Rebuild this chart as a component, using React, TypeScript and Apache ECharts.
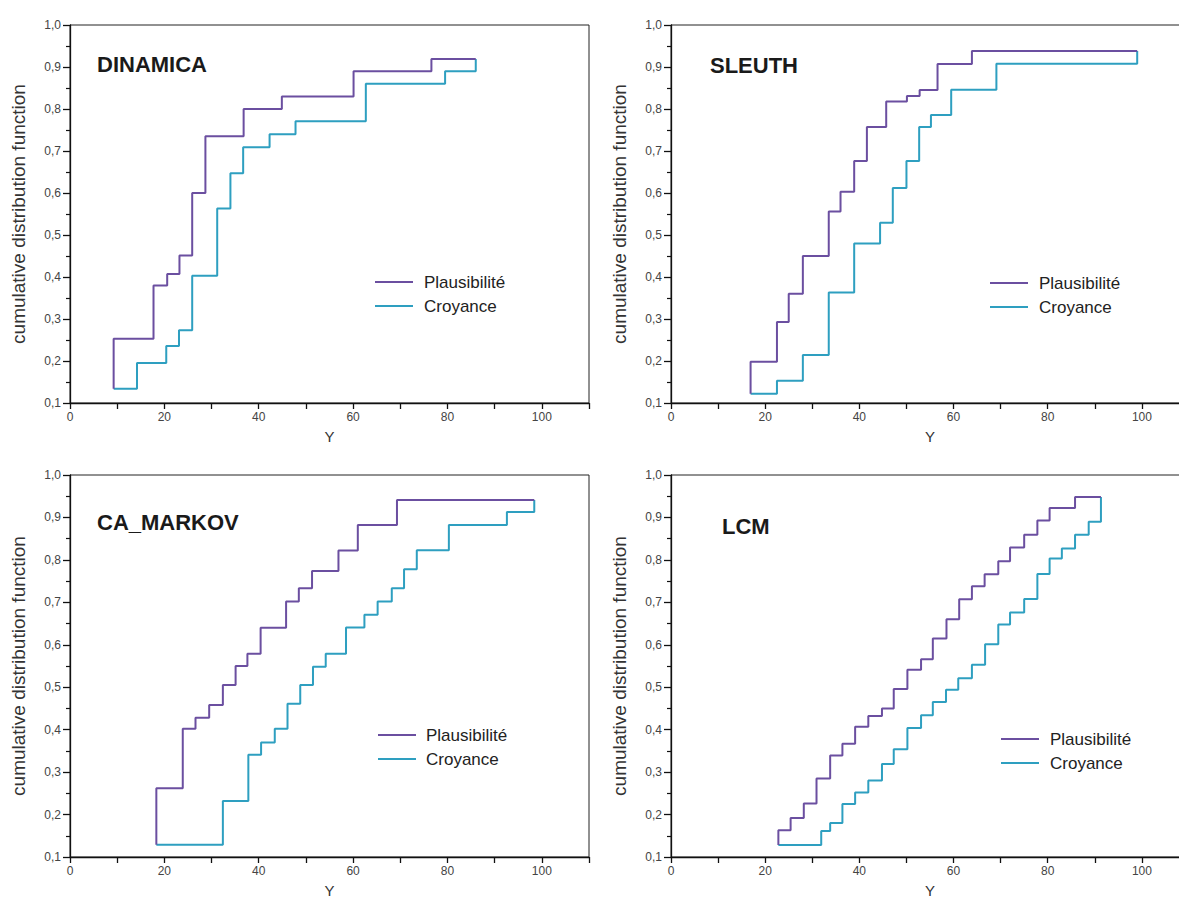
import React, { useEffect, useRef } from 'react';
import * as echarts from 'echarts';

const panelTitles = ['DINAMICA', 'SLEUTH', 'CA_MARKOV', 'LCM'];
const seriesNames = ['Plausibilité', 'Croyance'];
const xAxisName = 'Y';
const yAxisName = 'cumulative distribution function';

// DINAMICA
const dinPlausX = [9.25, 17.7, 20.6, 23.2, 25.9, 28.7, 36.8, 44.9, 60.1, 76.6];
const dinPlausY = [0.253, 0.38, 0.407, 0.451, 0.6, 0.735, 0.8, 0.83, 0.89, 0.919];
const dinCroyX = [9.25, 14.2, 20.4, 23.1, 25.9, 31.2, 34.0, 36.7, 42.3, 47.8, 62.7, 79.5];
const dinCroyY = [0.134, 0.195, 0.236, 0.273, 0.403, 0.563, 0.647, 0.709, 0.74, 0.771, 0.86, 0.89];
const dinEnd = 86.0;

// SLEUTH
const slePlausX = [16.9, 22.5, 25.0, 28.0, 33.5, 36.0, 38.9, 41.6, 45.7, 50.1, 52.8, 56.6, 63.9];
const slePlausY = [0.198, 0.293, 0.36, 0.45, 0.556, 0.603, 0.676, 0.757, 0.818, 0.831, 0.845, 0.907, 0.938];
const sleCroyX = [16.9, 22.5, 28.0, 33.5, 38.9, 44.4, 47.1, 50.0, 52.7, 55.2, 59.5, 69.1];
const sleCroyY = [0.122, 0.153, 0.214, 0.363, 0.48, 0.529, 0.612, 0.676, 0.757, 0.786, 0.846, 0.908];
const sleEnd = 99.0;

// CA_MARKOV
const camPlausX = [18.3, 23.9, 26.6, 29.5, 32.4, 35.1, 37.6, 40.4, 45.8, 48.5, 51.3, 56.9, 61.0, 69.3];
const camPlausY = [0.262, 0.402, 0.428, 0.458, 0.505, 0.55, 0.579, 0.64, 0.702, 0.733, 0.774, 0.822, 0.882, 0.941];
const camCroyX = [18.3, 32.4, 37.8, 40.5, 43.4, 46.1, 48.8, 51.5, 54.2, 58.5, 62.4, 65.2, 68.2, 70.8, 73.5, 80.3, 92.6];
const camCroyY = [0.129, 0.232, 0.341, 0.37, 0.402, 0.461, 0.505, 0.548, 0.579, 0.641, 0.671, 0.702, 0.733, 0.778, 0.823, 0.882, 0.913];
const camEnd = 98.4;

// LCM
const lcmPlausX = [22.8, 25.4, 28.2, 30.9, 33.8, 36.4, 39.1, 41.9, 44.8, 47.3, 50.2, 53.1, 55.6, 58.5, 61.2, 63.9, 66.6, 69.5, 72.0, 75.0, 77.8, 80.4, 85.8];
const lcmPlausY = [0.163, 0.192, 0.226, 0.285, 0.339, 0.367, 0.407, 0.432, 0.45, 0.496, 0.541, 0.566, 0.615, 0.66, 0.707, 0.738, 0.766, 0.797, 0.829, 0.859, 0.893, 0.922, 0.948];
const lcmCroyX = [22.8, 31.9, 33.8, 36.4, 39.1, 41.9, 44.8, 47.3, 50.2, 53.1, 55.6, 58.4, 61.0, 63.9, 66.7, 69.5, 72.0, 75.0, 77.8, 80.4, 83.0, 85.8, 88.7];
const lcmCroyY = [0.128, 0.161, 0.18, 0.225, 0.252, 0.28, 0.319, 0.354, 0.404, 0.434, 0.465, 0.494, 0.521, 0.553, 0.601, 0.648, 0.676, 0.708, 0.767, 0.803, 0.827, 0.859, 0.89];
const lcmEnd = 91.3;

const panelData = [
  { px: dinPlausX, py: dinPlausY, cx: dinCroyX, cy: dinCroyY, end: dinEnd },
  { px: slePlausX, py: slePlausY, cx: sleCroyX, cy: sleCroyY, end: sleEnd },
  { px: camPlausX, py: camPlausY, cx: camCroyX, cy: camCroyY, end: camEnd },
  { px: lcmPlausX, py: lcmPlausY, cx: lcmCroyX, cy: lcmCroyY, end: lcmEnd },
];

const PURPLE = '#6b4fa0';
const CYAN = '#2e9fc0';
const FONT = '"Liberation Sans", Arial, sans-serif';

// layout (page pixels)
const grids = [
  { left: 70, top: 25, width: 519, height: 378 },
  { left: 671, top: 25, width: 518, height: 378 },
  { left: 70, top: 475, width: 519, height: 382 },
  { left: 671, top: 475, width: 518, height: 382 },
];
const titlePos = [
  { x: 97, y: 65 },
  { x: 710, y: 66 },
  { x: 97, y: 523 },
  { x: 722, y: 527 },
];
const legendPos = [
  { x: 375, y: 282, tx: 424 },
  { x: 990, y: 283, tx: 1039 },
  { x: 378, y: 735, tx: 426 },
  { x: 1001, y: 739, tx: 1050 },
];

function buildPlaus(d: any) {
  const pts: number[][] = [[d.px[0], d.cy[0]]];
  d.px.forEach((x: number, i: number) => pts.push([x, d.py[i]]));
  pts.push([d.end, d.py[d.py.length - 1]]);
  return pts;
}
function buildCroy(d: any) {
  const pts: number[][] = [];
  d.cx.forEach((x: number, i: number) => pts.push([x, d.cy[i]]));
  pts.push([d.end, d.cy[d.cy.length - 1]]);
  pts.push([d.end, d.py[d.py.length - 1]]);
  return pts;
}

export default function App() {
  const ref = useRef<HTMLDivElement>(null);
  useEffect(() => {
    if (!ref.current) return;
    document.body.style.overflow = 'hidden';
    const chart = echarts.init(ref.current, undefined, { renderer: 'svg' });
    const xAxes: any[] = [];
    const yAxes: any[] = [];
    const series: any[] = [];
    const graphics: any[] = [];
    grids.forEach((g, i) => {
      xAxes.push({
        type: 'value',
        gridIndex: i,
        min: 0,
        max: 110,
        interval: 10,
        name: xAxisName,
        nameLocation: 'middle',
        nameGap: 26,
        nameTextStyle: { fontFamily: FONT, fontSize: 15, color: '#333' },
        axisLine: { show: true, lineStyle: { color: '#111', width: 1.3 } },
        axisTick: { show: true, inside: false, length: 6, lineStyle: { color: '#111', width: 1.3 } },
        axisLabel: {
          fontFamily: FONT,
          fontSize: 12,
          color: '#444',
          margin: 8,
          formatter: (v: number) => (v % 20 === 0 && v <= 100 ? String(v) : ''),
        },
        splitLine: { show: false },
      });
      yAxes.push({
        type: 'value',
        gridIndex: i,
        min: 0.1,
        max: 1.0,
        interval: 0.1,
        name: yAxisName,
        nameLocation: 'middle',
        nameGap: 42,
        nameTextStyle: { fontFamily: FONT, fontSize: 19, color: '#333' },
        axisLine: { show: true, lineStyle: { color: '#111', width: 1.3 } },
        axisTick: { show: true, inside: false, length: 7, lineStyle: { color: '#111', width: 1.3 } },
        minorTick: { show: true, splitNumber: 2, length: 4, lineStyle: { color: '#111', width: 1.2 } },
        axisLabel: {
          fontFamily: FONT,
          fontSize: 12,
          color: '#444',
          margin: 9,
          formatter: (v: number) => v.toFixed(1).replace('.', ','),
        },
        splitLine: { show: false },
      });
      const d = panelData[i];
      series.push({
        name: seriesNames[0],
        type: 'line',
        step: 'end',
        xAxisIndex: i,
        yAxisIndex: i,
        symbol: 'none',
        lineStyle: { color: PURPLE, width: 2 },
        itemStyle: { color: PURPLE },
        data: buildPlaus(d),
        z: 3,
      });
      series.push({
        name: seriesNames[1],
        type: 'line',
        step: 'end',
        xAxisIndex: i,
        yAxisIndex: i,
        symbol: 'none',
        lineStyle: { color: CYAN, width: 2 },
        itemStyle: { color: CYAN },
        data: buildCroy(d),
        z: 2,
      });
      graphics.push({
        type: 'text',
        left: titlePos[i].x,
        top: titlePos[i].y - 12,
        style: { text: panelTitles[i], font: `bold 22px ${FONT}`, fill: '#1a1a1a' },
      });
      const lp = legendPos[i];
      graphics.push({
        type: 'line',
        shape: { x1: lp.x, y1: lp.y, x2: lp.x + 38, y2: lp.y },
        style: { stroke: PURPLE, lineWidth: 2 },
      });
      graphics.push({
        type: 'line',
        shape: { x1: lp.x, y1: lp.y + 24, x2: lp.x + 38, y2: lp.y + 24 },
        style: { stroke: CYAN, lineWidth: 2 },
      });
      graphics.push({
        type: 'text',
        x: lp.tx,
        y: lp.y,
        style: { text: seriesNames[0], font: `17px ${FONT}`, fill: '#222', verticalAlign: 'middle' },
      });
      graphics.push({
        type: 'text',
        x: lp.tx,
        y: lp.y + 24,
        style: { text: seriesNames[1], font: `17px ${FONT}`, fill: '#222', verticalAlign: 'middle' },
      });
    });
    chart.setOption({
      animation: false,
      backgroundColor: '#ffffff',
      grid: grids.map((g) => ({ ...g, show: true, borderColor: '#222', borderWidth: 1, backgroundColor: 'transparent' })),
      xAxis: xAxes,
      yAxis: yAxes,
      series,
      graphic: graphics,
    });
    return () => chart.dispose();
  }, []);
  return (
    <div
      ref={ref}
      style={{ position: 'fixed', left: 0, top: 0, width: 1200, height: 913, background: '#fff' }}
    />
  );
}
